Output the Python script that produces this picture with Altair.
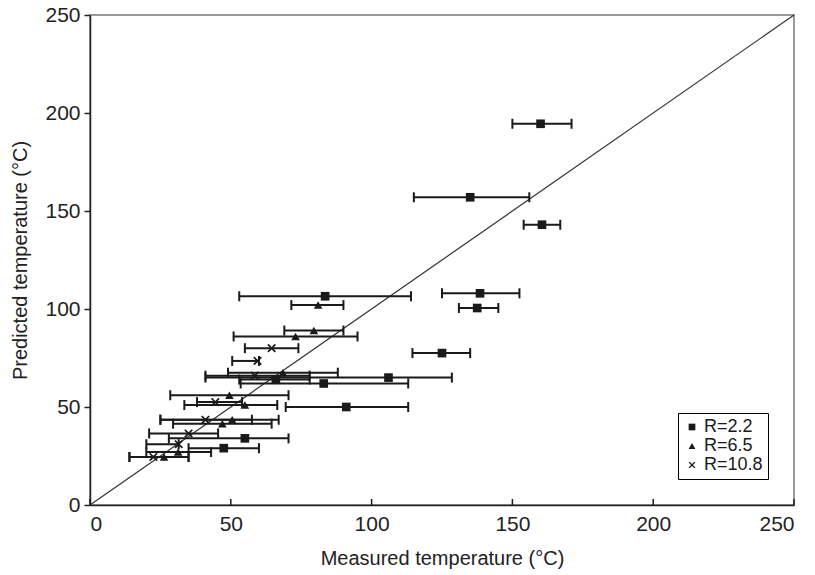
import altair as alt
import pandas as pd

series_names = ["R=2.2", "R=6.5", "R=10.8"]

# R=2.2 (squares)
sq_meas = [160, 135, 160.5, 83.5, 138.5, 137.5, 125, 106, 66, 83, 91, 55, 47.5]
sq_pred = [194.5, 157, 143, 106.5, 108, 100.5, 77.5, 65, 64, 62, 50, 34, 29]
sq_lo = [150, 115, 154, 53, 125, 131, 114.5, 41, 53, 53.5, 69.5, 28, 35]
sq_hi = [171, 156, 167, 114, 152.5, 145, 135, 128.5, 78, 113, 113, 70.5, 60]

# R=6.5 (triangles)
tr_meas = [81, 79.5, 73, 68.5, 49.5, 55, 50.5, 47, 31.3, 26.3]
tr_pred = [102, 89, 86, 67.5, 56, 51, 43.5, 41.5, 27, 24.5]
tr_lo = [71.5, 69, 51, 49, 28.5, 33.5, 25, 29.5, 20, 14]
tr_hi = [90, 90, 95, 88, 70.5, 66.5, 67, 64.5, 43, 35]

# R=10.8 (crosses)
cr_meas = [64.5, 59.5, 58.5, 44.5, 41, 35, 31.5, 22.5]
cr_pred = [80, 73.5, 66, 52.5, 43.5, 36.5, 31, 24.5]
cr_lo = [55, 50.5, 41, 38, 25, 21, 20, 14]
cr_hi = [74, 60, 78, 54, 57.5, 45.5, 31.5, 35]

axis_ticks = [0, 50, 100, 150, 200, 250]
diag_ends = [0, 250]

rows = []
for name, ms, ps, los, his in [
    (series_names[0], sq_meas, sq_pred, sq_lo, sq_hi),
    (series_names[1], tr_meas, tr_pred, tr_lo, tr_hi),
    (series_names[2], cr_meas, cr_pred, cr_lo, cr_hi),
]:
    for m, p, lo, hi in zip(ms, ps, los, his):
        rows.append({"series": name, "meas": m, "pred": p, "lo": lo, "hi": hi})
df = pd.DataFrame(rows)
diag = pd.DataFrame({"meas": diag_ends, "pred": diag_ends})
tick_df = pd.DataFrame({"t": axis_ticks})

INK = "#1a1a1a"
FONT = "Liberation Sans"
X_SHAPE = ("M-1,-0.72L-0.72,-1L0,-0.28L0.72,-1L1,-0.72L0.28,0L1,0.72L0.72,1"
           "L0,0.28L-0.72,1L-1,0.72L-0.28,0Z")

xscale = alt.Scale(domain=[0, 250], nice=False)
yscale = alt.Scale(domain=[0, 250], nice=False)
xaxis = alt.Axis(values=axis_ticks, title="Measured temperature (°C)", ticks=False,
                 grid=False, labelPadding=8, titlePadding=14, format="d")
yaxis = alt.Axis(values=axis_ticks, title="Predicted temperature (°C)", grid=False,
                 tickSize=6, labelPadding=4, titlePadding=14, format="d")


def X(f):
    return alt.X(f, type="quantitative", scale=xscale, axis=xaxis)


def Y(f):
    return alt.Y(f, type="quantitative", scale=yscale, axis=yaxis)


line = alt.Chart(diag).mark_line(color="#333333", strokeWidth=1.2).encode(x=X("meas"), y=Y("pred"))

xticks = alt.Chart(tick_df).mark_rule(color=INK, strokeWidth=1.5).encode(
    x=X("t"), y=alt.value(490), y2=alt.value(484)
)

bars = alt.Chart(df).mark_rule(color=INK, strokeWidth=2).encode(x=X("lo"), x2="hi:Q", y=Y("pred"))
cap_lo = alt.Chart(df).mark_tick(orient="vertical", size=10, thickness=2, color=INK, opacity=1).encode(
    x=X("lo"), y=Y("pred"))
cap_hi = alt.Chart(df).mark_tick(orient="vertical", size=10, thickness=2, color=INK, opacity=1).encode(
    x=X("hi"), y=Y("pred"))

points = alt.Chart(df).mark_point(filled=True, size=75, color=INK, opacity=1).encode(
    x=X("meas"),
    y=Y("pred"),
    shape=alt.Shape(
        "series:N",
        scale=alt.Scale(domain=series_names, range=["square", "triangle-up", X_SHAPE]),
        legend=alt.Legend(title=None, orient="none", legendX=588, legendY=398,
                          strokeColor="black", fillColor="white", padding=5,
                          labelFontSize=18, labelFont=FONT, labelColor=INK,
                          symbolSize=45, symbolFillColor=INK, rowPadding=1, labelOffset=3),
    ),
)

chart = alt.layer(line, bars, cap_lo, cap_hi, points, xticks).properties(
    width=704, height=490,
    autosize=alt.AutoSizeParams(type="none"),
    padding={"left": 90, "top": 15, "right": 21, "bottom": 70},
).configure_view(stroke="#999999", strokeWidth=2).configure_axis(
    domainColor="#222222", domainWidth=1.5, tickColor="#222222", tickWidth=1.5,
    labelFont=FONT, titleFont=FONT, labelFontSize=21, titleFontSize=20,
    labelColor="#222222", titleColor="#222222", titleFontWeight="normal",
)

chart.save("out.html", embed_options={"renderer": "svg", "actions": False})
